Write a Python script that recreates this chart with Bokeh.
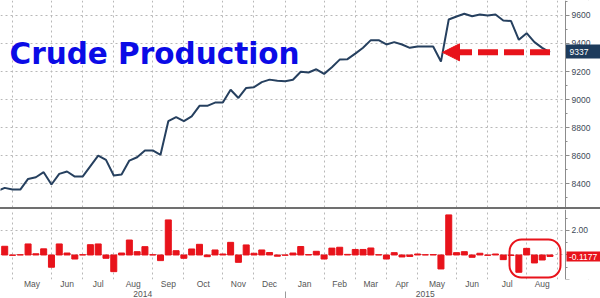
import numpy as np
import pandas as pd
from bokeh.plotting import figure
from bokeh.models import (Range1d, LinearAxis, FixedTicker, Label, Arrow, NormalHead,
                          BoxAnnotation, Spacer)
from bokeh.layouts import column
from bokeh.embed import file_html
from bokeh.resources import INLINE

# ---------------- data ----------------
first_week = "2014-04-18"          # weekly observations (Fridays)
production = [8345, 8369, 8357, 8357, 8433, 8445, 8481, 8393, 8469, 8486,
              8450, 8450, 8525, 8600, 8569, 8457, 8464, 8564, 8588, 8636,
              8636, 8605, 8845, 8874, 8845, 8879, 8955, 8955, 8978, 8978,
              9070, 9011, 9083, 9088, 9124, 9142, 9134, 9131, 9141, 9198,
              9193, 9216, 9183, 9230, 9285, 9288, 9328, 9370, 9424, 9424,
              9393, 9410, 9393, 9369, 9379, 9379, 9379, 9271, 9571, 9593,
              9612, 9595, 9607, 9600, 9607, 9564, 9560, 9426, 9474, 9410,
              9369, 9337]
# weekly % change, from the second week on
weekly_change = [0.71, -0.03, 0.02, 0.90, 0.10, 0.50, -1.00, 0.90, 0.16, -0.33,
                 0.02, 0.84, 0.90, -0.27, -1.36, 0.16, 1.22, 0.27, 0.68, 0.02,
                 -0.46, 2.86, 0.35, -0.27, 0.49, 0.87, -0.14, 0.41, 0.08, 1.03,
                 -0.60, 0.82, 0.14, 0.41, 0.20, -0.10, -0.02, 0.16, 0.69, 0.03,
                 0.30, -0.33, 0.56, 0.63, 0.05, 0.45, 0.45, 0.57, 0.02, -0.33,
                 0.19, -0.16, -0.12, 0.08, 0.02, 0.03, -1.14, 3.27, 0.19, 0.27,
                 -0.19, 0.14, -0.03, 0.08, -0.38, -0.04, -1.41, 0.54, -0.65, -0.41,
                 -0.1177]
month_labels = ["May", "Jun", "Jul", "Aug", "Sep", "Oct", "Nov", "Dec",
                "Jan", "Feb", "Mar", "Apr", "May", "Jun", "Jul", "Aug"]
year_labels = ["2014", "2015"]
upper_ticks = [8400, 8600, 8800, 9000, 9200, 9400, 9600]
lower_ticks = [-2, 0, 2]
lower_tick_labels = ["", "", "2.00"]
title_text = "Crude Production"
last_production_text = "9337"
last_change_text = "-0.1177"

# ---------------- geometry / styling ----------------
MS_DAY = 86_400_000
FULL_W = 600          # frame spans the whole width
AXIS_PX = 565         # where the value axis sits
UP_H = 207
LO_H = 70
PX_PER_WEEK = 7.79
ms_per_px = 7 * MS_DAY / PX_PER_WEEK

RED = "#e8131b"
NAVY = "#1d3b5c"
LINE = "#26405f"
GRID = "#b8b8b8"
AXIS = "#8c8c8c"
TXT = "#3e4a57"
FONT = "Liberation Sans"


def to_ms(ts):
    return int((pd.Timestamp(ts) - pd.Timestamp("1970-01-01")) / pd.Timedelta(milliseconds=1))


weeks = pd.date_range(first_week, periods=len(production), freq="7D")
week_ms = [to_ms(t) for t in weeks]

# month boundaries = first weekly observation in each month
fridays = pd.date_range("2014-04-01", "2015-10-31", freq="W-FRI")
firsts = [d for d in fridays if d.day <= 7]
grid_ms = [to_ms(d) for d in firsts]

x0 = grid_ms[1] - 12 * ms_per_px
x1 = x0 + FULL_W * ms_per_px

UP_TOP, UP_BOT = 9707, 8229
LO_TOP, LO_BOT = 3.71, -2.0


def x_px(px):
    return x0 + px * ms_per_px


def y_up(px):
    return UP_TOP - px * (UP_TOP - UP_BOT) / UP_H


def y_lo(px):
    return LO_TOP - (px - UP_H - 2) * (LO_TOP - LO_BOT) / LO_H


def style_value_axis(ax):
    ax.axis_line_color = AXIS
    ax.major_tick_line_color = AXIS
    ax.minor_tick_line_color = AXIS
    ax.major_tick_in = 0
    ax.major_tick_out = 4
    ax.minor_tick_in = 0
    ax.minor_tick_out = 2
    ax.major_label_standoff = 2
    ax.major_label_text_font = FONT
    ax.major_label_text_font_size = "8.5px"
    ax.major_label_text_color = TXT
    ax.fixed_location = x_px(AXIS_PX)


def style_grids(p, yticks):
    p.ygrid.ticker = FixedTicker(ticks=yticks)
    p.xgrid.ticker = FixedTicker(ticks=grid_ms)
    for g in (p.xgrid, p.ygrid):
        g.grid_line_color = GRID
        g.grid_line_dash = "2 3"
        g.grid_line_width = 1
    # blank the strip right of the value axis
    p.add_layout(BoxAnnotation(left=x_px(AXIS_PX + 0.5), fill_color="white", fill_alpha=1,
                               line_alpha=0, level="underlay"))


def value_tag(p, y_top, y_bot, y_text, text, bg, left_px, text_px, size):
    p.add_layout(BoxAnnotation(left=x_px(left_px), top=y_top, bottom=y_bot,
                               fill_color=bg, fill_alpha=1, line_alpha=0))
    p.add_layout(Label(x=x_px(text_px), y=y_text, text=text, text_font=FONT,
                       text_font_size=size, text_color="white",
                       text_baseline="middle", text_align="left"))


xr = Range1d(x0, x1)

# ---------------- upper panel ----------------
p1 = figure(frame_width=FULL_W, frame_height=UP_H, x_range=xr,
            y_range=Range1d(UP_BOT, UP_TOP), x_axis_location=None,
            y_axis_location="right", output_backend="svg", toolbar_location=None,
            min_border=0)
p1.outline_line_color = None
p1.background_fill_color = "white"
p1.border_fill_color = "white"

minor_up = [float(v) for v in np.arange(8300, 9701, 100)]
p1.yaxis.ticker = FixedTicker(ticks=upper_ticks, minor_ticks=minor_up)
for ax in p1.yaxis:
    style_value_axis(ax)
style_grids(p1, upper_ticks)

p1.line(week_ms, production, line_width=2, color=LINE)

p1.add_layout(Label(x=x_px(9), y=y_up(53), text=title_text, text_font="DejaVu Sans",
                    text_font_style="bold", text_font_size="29.5px", text_color="#0b0be6",
                    text_baseline="alphabetic", text_align="left"))

p1.add_layout(Arrow(end=NormalHead(size=17, fill_color=RED, line_color=RED),
                    x_start=week_ms[-1], y_start=production[-1],
                    x_end=x_px(442), y_end=production[-1],
                    line_color=RED, line_width=6, line_dash="20 6"))

value_tag(p1, y_up(44), y_up(58), production[-1], last_production_text, NAVY,
          565.5, 569, "8.5px")

# ---------------- lower panel ----------------
p2 = figure(frame_width=FULL_W, frame_height=LO_H, x_range=xr,
            y_range=Range1d(LO_BOT, LO_TOP), x_axis_location=None,
            y_axis_location="right", output_backend="svg", toolbar_location=None,
            min_border=0)
p2.outline_line_color = None
p2.background_fill_color = "white"
p2.border_fill_color = "white"

p2.yaxis.ticker = FixedTicker(ticks=lower_ticks, minor_ticks=[-1, 1, 3])
for ax in p2.yaxis:
    ax.major_label_overrides = dict(zip(lower_ticks, lower_tick_labels))
    style_value_axis(ax)
style_grids(p2, lower_ticks)

p2.vbar(x=week_ms[1:], top=weekly_change, width=5.4 * MS_DAY, color=RED)

# month labels centred between month boundaries
month_ticks = [int((grid_ms[k] + grid_ms[k + 1]) / 2) for k in range(1, 1 + len(month_labels))]
ax_m = LinearAxis(ticker=FixedTicker(ticks=month_ticks),
                  major_label_overrides=dict(zip(month_ticks, month_labels)),
                  axis_line_color=None, major_tick_line_color=None,
                  minor_tick_line_color=None, major_tick_out=0, minor_tick_out=0,
                  major_tick_in=0, minor_tick_in=0,
                  major_label_standoff=-1, major_label_text_font=FONT,
                  major_label_text_font_size="8.5px", major_label_text_color="#555555")
p2.add_layout(ax_m, "below")

jan_ms = [g for g, d in zip(grid_ms, firsts) if d.month == 1][0]
year_ticks = [int((x0 + jan_ms) / 2), int((jan_ms + x_px(AXIS_PX)) / 2)]
ax_y = LinearAxis(ticker=FixedTicker(ticks=year_ticks, minor_ticks=[jan_ms]),
                  major_label_overrides=dict(zip(year_ticks, year_labels)),
                  axis_line_color=None, major_tick_line_color=None,
                  minor_tick_line_color="#9a9a9a", major_tick_out=0, major_tick_in=0,
                  minor_tick_out=10, minor_tick_in=0,
                  major_label_standoff=-11, major_label_text_font=FONT,
                  major_label_text_font_size="8.5px", major_label_text_color="#555555")
p2.add_layout(ax_y, "below")

p2.add_layout(BoxAnnotation(left=x_px(509), right=x_px(560), top=y_lo(239), bottom=y_lo(277),
                            fill_alpha=0, line_color=RED, line_alpha=1, line_width=2,
                            border_radius=12))

value_tag(p2, y_lo(251), y_lo(261), y_lo(256), last_change_text, RED,
          566, 568.5, "8.5px")

sep = Spacer(width=FULL_W, height=2, styles={"background-color": "#707070"})
layout = column(p1, sep, p2, spacing=0)

open("out.html", "w").write(file_html(layout, INLINE))
